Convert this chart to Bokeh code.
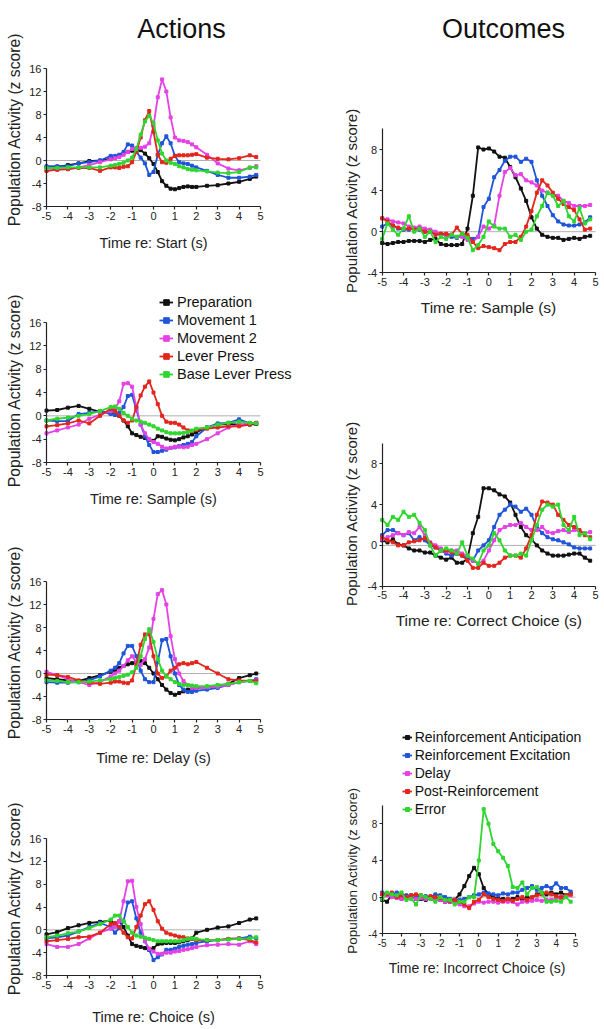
import math
from bokeh.plotting import figure
from bokeh.models import Range1d, FixedTicker, Legend, LegendItem, LinearAxis
from bokeh.embed import file_html
from bokeh.resources import INLINE
from bokeh.core.properties import value

FONT = "Liberation Sans"
COLORS = ["#111111", "#1f55d9", "#e542e5", "#e3261d", "#2fd62f"]
W, H = 604, 1029

# ---------------- data: Actions (left column) ----------------
t_act = [-5, -4.5, -4, -3.5, -3, -2.5, -2, -1.8, -1.6, -1.4, -1.2, -1, -0.8, -0.6, -0.4, -0.2,
         0, 0.2, 0.4, 0.6, 0.8, 1, 1.2, 1.4, 1.6, 1.8, 2, 2.5, 3, 3.5, 4, 4.5, 4.8]
action_names = ["Preparation", "Movement 1", "Movement 2", "Lever Press", "Base Lever Press"]

start_prep = [-1.2, -1.1, -0.8, -0.5, -0.1, 0.0, 0.3, 0.5, 0.8, 1.2, 1.5, 1.7, 1.8, 1.8, 1.2, 0.4, -0.6,
              -2.0, -3.6, -4.4, -4.9, -5.0, -4.8, -4.6, -4.5, -4.6, -4.6, -4.4, -4.3, -4.0, -3.7, -3.2, -2.8]
start_mov1 = [-1.0, -1.0, -1.0, -0.5, -0.3, 0.0, 0.8, 0.8, 1.0, 1.5, 2.8, 2.6, 1.5, 0.5, -0.5, -2.5, -2.0,
              1.0, 3.0, 4.2, 3.0, 0.8, -0.3, -0.5, -0.6, -0.9, -1.2, -1.8, -2.5, -3.0, -3.0, -2.8, -2.5]
start_mov2 = [-1.8, -1.6, -1.5, -1.2, -0.8, -0.3, 0.2, 0.4, 0.6, 1.0, 1.5, 2.0, 2.2, 2.2, 2.4, 3.0, 6.0,
              11.0, 14.1, 12.0, 7.5, 4.0, 3.5, 3.4, 3.2, 2.8, 2.3, 1.0, -0.5, -1.4, -1.7, -1.3, -1.0]
start_lever = [-1.8, -1.6, -1.5, -1.3, -1.3, -1.8, -1.2, -1.2, -1.3, -1.1, -1.0, -0.3, 1.5, 4.0, 7.0, 8.6, 5.0,
               1.0, -0.3, -0.4, 0.3, 0.8, 0.9, 0.9, 0.9, 1.0, 1.1, 0.5, 0.3, 0.2, 0.4, 0.9, 0.6]
start_base = [-1.3, -1.3, -1.2, -1.2, -1.2, -1.2, -0.9, -0.8, -0.6, -0.4, 0.0, 0.5, 2.0, 4.5, 6.8, 7.8, 6.5,
              3.5, 1.2, 0.0, -0.4, -0.6, -1.0, -1.2, -1.5, -1.6, -1.7, -1.9, -2.1, -2.2, -2.0, -1.2, -1.2]

sample_prep = [0.9, 1.0, 1.4, 1.7, 1.2, 0.7, 0.5, 0.2, 0.0, -0.8, -1.8, -3.0, -3.3, -3.6, -3.8, -4.1, -4.3,
               -3.5, -3.6, -3.9, -4.1, -4.2, -4.0, -3.7, -3.5, -3.2, -2.8, -2.0, -1.5, -1.4, -1.5, -1.5, -1.4]
sample_mov1 = [-0.8, -0.9, -0.9, 0.3, 0.5, 0.8, 0.3, 0.2, 0.5, 1.5, 3.4, 3.6, 1.0, -1.5, -3.5, -5.0, -6.2,
               -6.2, -6.0, -5.8, -5.5, -5.4, -5.2, -5.0, -4.8, -4.5, -3.5, -2.0, -1.3, -1.2, -0.6, -1.3, -1.3]
sample_mov2 = [-3.0, -2.5, -2.0, -1.5, -0.5, 0.2, 0.8, 1.2, 2.5, 5.5, 5.6, 5.0, 1.5, -1.5, -3.0, -4.0, -4.5,
               -4.8, -5.3, -5.6, -5.5, -5.3, -5.3, -5.4, -5.3, -5.0, -4.8, -4.0, -3.0, -2.0, -1.5, -1.3, -1.2]
sample_lever = [-1.8, -1.6, -1.3, -0.8, -1.3, 0.0, 1.2, 0.8, 0.0, -0.8, -1.2, -0.8, 1.5, 3.5, 5.0, 5.9, 4.0,
                2.0, 0.0, -1.0, -1.2, -1.2, -1.5, -2.0, -2.5, -2.6, -2.4, -2.2, -2.0, -1.8, -1.8, -1.5, -1.2]
sample_base = [-0.8, -0.5, -0.3, 0.0, 0.3, 0.8, 1.5, 1.6, 1.2, 0.5, 0.0, -0.5, -0.8, -1.0, -1.2, -1.5, -1.8,
               -2.2, -2.5, -2.8, -3.0, -3.0, -3.0, -2.9, -2.8, -2.5, -2.2, -2.0, -1.5, -1.2, -1.0, -1.2, -1.3]

delay_prep = [-0.8, -1.0, -1.2, -1.3, -0.8, -0.3, 0.3, 0.6, 1.0, 1.3, 1.6, 1.8, 2.0, 2.2, 1.8, 1.0, 0.0,
              -1.0, -2.0, -2.8, -3.4, -3.7, -3.4, -3.1, -2.8, -2.6, -2.5, -2.4, -2.2, -1.8, -0.8, -0.3, 0.0]
delay_mov1 = [-1.5, -1.6, -1.6, -1.5, -1.2, -0.5, 0.5, 1.0, 1.8, 3.5, 4.8, 4.8, 3.0, 0.5, -1.0, -1.5, -1.5,
              2.0, 5.8, 6.0, 3.0, 0.0, -2.0, -2.8, -3.2, -3.2, -3.0, -2.8, -2.5, -2.0, -1.5, -1.3, -1.0]
delay_mov2 = [0.3, -0.3, -1.0, -1.5, -2.0, -1.5, -0.5, 0.0, 0.5, 1.3, 2.3, 3.0, 2.0, 1.5, 2.5, 4.5, 9.5,
              13.8, 14.5, 12.0, 6.5, 2.5, 0.0, -1.3, -2.0, -2.5, -2.5, -2.4, -2.3, -2.0, -1.5, -1.3, -1.2]
delay_lever = [-0.2, -0.3, -0.6, -1.2, -1.6, -1.8, -1.6, -1.4, -1.4, -1.6, -1.7, -1.2, 1.5, 5.0, 6.8, 6.8, 3.0,
               0.0, -0.8, -0.5, 0.5, 1.0, 1.6, 1.8, 1.6, 1.8, 2.0, 1.0, 0.0, -1.0, -1.2, -1.3, -1.3]
delay_base = [-1.2, -1.3, -1.5, -1.5, -1.4, -1.2, -1.0, -0.8, -0.6, -0.4, -0.2, 0.2, 1.0, 3.0, 6.0, 7.7, 5.5,
              2.5, 0.5, -0.5, -1.0, -1.5, -1.8, -2.0, -2.0, -2.1, -2.2, -2.2, -2.0, -1.8, -1.5, -1.3, -1.7]

choice_prep = [-0.8, -0.4, 0.3, 0.8, 1.2, 1.4, 1.6, 1.0, 1.5, 0.5, -1.0, -2.5, -2.8, -3.0, -3.2, -3.5, -3.2,
               -2.5, -2.4, -2.3, -2.3, -2.3, -2.2, -2.0, -1.8, -1.5, -0.5, 0.0, 0.4, 0.6, 1.2, 1.8, 2.0]
choice_mov1 = [-1.5, -1.3, -1.0, -0.3, 0.5, 1.2, 0.5, -0.5, 0.3, 1.5, 4.8, 5.0, 2.0, -0.5, -2.0, -3.5, -5.3,
               -4.8, -4.3, -3.5, -3.5, -3.3, -3.0, -2.8, -2.6, -2.5, -2.3, -2.0, -1.8, -1.6, -1.5, -1.2, -1.5]
choice_mov2 = [-2.5, -3.0, -3.0, -2.5, -1.5, -0.5, 0.2, 0.5, 1.5, 5.0, 8.5, 8.6, 4.0, 1.0, -2.0, -3.3, -3.8,
               -4.2, -4.2, -4.0, -4.0, -3.8, -3.7, -3.5, -3.4, -3.2, -3.0, -2.7, -2.6, -2.5, -2.6, -2.0, -2.5]
choice_lever = [-2.0, -1.8, -1.6, -1.3, -1.2, -0.5, 1.0, 1.2, 0.5, -0.5, -1.3, -1.5, 0.5, 2.5, 4.5, 5.0, 3.5,
                1.5, 0.2, -0.5, -0.8, -1.0, -1.2, -1.3, -1.5, -1.6, -1.8, -1.8, -1.8, -1.6, -1.5, -1.8, -2.2]
choice_base = [-1.3, -1.0, -0.6, -0.3, 0.3, 1.0, 1.8, 2.5, 2.5, 1.5, 0.5, -0.5, -1.0, -1.2, -1.4, -1.6, -1.8,
               -2.0, -2.0, -2.0, -2.0, -2.0, -2.0, -1.8, -1.6, -1.5, -1.6, -1.8, -1.8, -1.7, -1.6, -1.5, -1.3]

# ---------------- data: Outcomes (right column) ----------------
t_out = [-5, -4.75, -4.5, -4.25, -4, -3.75, -3.5, -3.25, -3, -2.75, -2.5, -2.25, -2, -1.75, -1.5, -1.25,
         -1, -0.75, -0.5, -0.25, 0, 0.25, 0.5, 0.75, 1, 1.25, 1.5, 1.75, 2, 2.25, 2.5, 2.75, 3, 3.25, 3.5,
         3.75, 4, 4.25, 4.5, 4.75]
outcome_names = ["Reinforcement Anticipation", "Reinforcement Excitation", "Delay", "Post-Reinforcement", "Error"]

samp_ant = [-1.1, -1.2, -1.1, -1.0, -1.0, -0.9, -0.9, -0.9, -1.0, -0.8, -0.7, -1.2, -1.3, -1.3, -1.3, -1.2,
            0.3, 3.5, 8.2, 8.0, 8.1, 7.8, 7.3, 7.2, 6.3, 5.3, 4.2, 3.0, 1.4, 0.3, -0.3, -0.5, -0.6, -0.6,
            -0.8, -0.7, -0.6, -0.7, -0.5, -0.4]
samp_exc = [0.5, 0.8, 0.6, 0.3, 0.2, 0.2, 0.3, 0.2, 0.0, 0.0, -0.2, -0.3, -0.3, -0.5, -0.6, -0.4, -0.5,
            -0.7, -0.5, 2.4, 3.2, 5.3, 6.0, 6.9, 7.3, 7.3, 6.8, 7.1, 6.8, 5.0, 3.5, 2.5, 1.6, 1.0, 0.7, 0.6,
            0.6, 0.7, 0.9, 1.4]
samp_delay = [1.3, 1.2, 1.0, 0.9, 0.8, 0.5, 0.4, 0.5, 0.3, 0.2, 0.0, -0.2, -0.3, -0.3, -0.5, -0.5, -0.8,
              -1.0, -0.5, 0.5, 0.3, 0.6, 3.5, 5.8, 6.2, 5.5, 5.6, 5.0, 4.8, 4.5, 4.0, 3.8, 3.6, 3.5, 3.0,
              2.8, 2.5, 2.5, 2.5, 2.6]
samp_post = [1.3, 1.0, 0.6, 0.4, 0.3, 0.3, 0.2, 0.3, 0.0, 0.0, -0.3, -0.2, -0.2, -0.3, 0.4, -0.2, -0.3,
             -1.0, -1.6, -1.4, -1.5, -1.6, -1.8, -1.2, -1.0, -1.0, -0.5, 0.5, 2.0, 3.8, 5.0, 4.5, 3.8, 3.2,
             2.7, 2.4, 2.1, 1.2, 0.2, 0.3]
samp_err = [-0.7, 0.8, 0.2, -0.3, 0.3, 1.5, 0.0, 0.3, -0.5, 0.0, -1.0, -0.5, -0.7, -0.3, -0.5, -0.2, -0.6,
            -1.8, -1.3, -0.5, 1.0, 0.5, 0.3, 0.3, -0.5, -0.3, -0.8, 0.0, 0.2, 1.5, 2.5, 3.8, 3.5, 2.5, 3.0,
            1.5, 1.0, 2.3, 0.8, 1.2]

corr_ant = [0.5, 0.3, 0.6, 0.1, 0.0, -0.3, -0.5, -0.5, -0.7, -0.7, -1.0, -1.2, -1.4, -1.2, -1.7, -1.7, -1.3,
            1.2, 2.8, 5.6, 5.6, 5.4, 5.0, 4.8, 4.2, 3.0, 1.8, 1.0, 0.6, 0.0, -0.5, -0.8, -1.0, -1.0, -1.0,
            -0.9, -0.8, -0.8, -1.2, -1.5]
corr_exc = [1.0, 1.5, 1.5, 1.2, 1.0, 1.2, 0.5, 0.8, 0.5, 0.0, -0.2, -0.5, -0.8, -1.0, -0.8, -1.0, -1.2,
            -1.5, -0.5, 0.0, 0.5, 1.8, 3.0, 3.5, 4.0, 3.8, 3.3, 3.6, 3.0, 1.8, 1.2, 0.8, 0.6, 0.5, 0.3, 0.1,
            -0.2, -0.3, -0.3, -0.3]
corr_delay = [0.6, 0.8, 1.0, 1.2, 1.0, 1.3, 1.2, 1.8, 1.0, 0.3, 0.0, -0.3, -0.6, -0.5, -0.5, -0.8, -1.0,
              -1.5, -1.8, -1.5, -0.5, 0.5, 1.5, 1.8, 2.0, 2.0, 2.2, 1.8, 1.5, 1.5, 1.8, 1.3, 1.2, 1.4, 1.5,
              1.3, 1.5, 1.4, 1.2, 1.3]
corr_post = [0.8, 0.5, 0.3, 0.0, 0.0, 0.3, 0.4, 0.5, 0.7, 0.2, -0.2, -0.5, -0.5, -0.7, -0.8, -1.0, -1.5,
             -2.2, -2.2, -1.7, -2.0, -2.0, -1.7, -1.2, -1.0, -1.0, -1.2, -0.3, 1.0, 3.0, 4.3, 4.2, 4.0, 3.0,
             2.5, 2.0, 1.8, 1.5, 1.0, 0.8]
corr_err = [2.5, 2.0, 2.8, 2.5, 3.3, 2.8, 3.0, 2.2, 1.5, 0.0, -1.0, -0.5, -0.3, -0.5, -0.8, 0.3, -1.0,
            -1.3, -1.8, -0.5, 0.0, 1.2, 0.5, -0.5, -1.0, -1.0, -0.8, -1.0, 0.5, 2.0, 3.5, 4.0, 3.8, 4.0,
            2.0, 1.5, 2.8, 1.0, 1.2, 0.6]

inc_ant = [-0.3, -0.5, 0.3, 0.0, -0.2, 0.0, 0.0, -0.2, -0.2, -0.3, -0.1, -0.2, -0.3, -0.5, -0.5, -0.3, 0.3,
           1.2, 2.3, 3.2, 2.5, 1.0, 0.3, 0.0, -0.2, -0.2, -0.3, -0.2, 0.0, -0.3, 0.0, -0.1, 0.3, 0.5, 0.3,
           0.5, 0.3, 0.5, 0.2, 0.4]
inc_exc = [0.5, 0.3, 0.3, 0.5, 0.3, 0.2, 0.2, 0.2, 0.0, 0.1, 0.0, 0.3, 0.2, 0.0, -0.2, -0.3, -0.3, -0.2,
           0.0, 0.2, 0.3, 0.5, 0.4, 0.3, 0.2, 0.4, 0.3, 0.5, 0.5, 0.8, 1.0, 1.2, 0.8, 1.0, 1.2, 1.0, 1.5,
           1.0, 1.0, 0.6]
inc_delay = [0.3, 0.2, 0.0, -0.1, -0.2, 0.0, -0.1, -0.2, -0.1, -0.2, -0.2, -0.3, -0.3, -0.5, -0.5, -0.6,
             -0.8, -1.0, -1.0, -0.7, -0.5, -0.6, -0.5, -0.5, -0.6, -0.5, -0.5, -0.5, -0.8, -0.5, -0.5, -0.4,
             -0.3, -0.4, -0.3, -0.3, -0.2, -0.1, 0.0, 0.2]
inc_post = [0.3, 0.3, 0.5, 0.0, 0.2, 0.0, 0.2, 0.3, 0.2, 0.0, 0.1, 0.0, -0.1, -0.3, -0.4, -0.3, -0.5, -0.8,
            -1.2, -0.5, -0.3, 0.3, 0.0, -0.2, -0.3, -0.4, -0.2, -0.4, -0.2, 0.0, -0.3, 0.0, 0.2, 0.3, 0.5,
            0.3, 0.1, 0.0, 0.2, 0.3]
inc_err = [-0.2, 0.5, 0.3, 0.2, 0.5, -0.3, -0.2, -0.8, 0.2, 0.0, -0.2, -0.5, 0.0, -0.3, -0.3, -0.8, -0.5,
           -0.5, 0.0, 0.0, 4.0, 9.6, 8.0, 5.8, 5.0, 4.3, 3.4, 1.1, 1.0, 1.6, 0.3, 1.0, 1.1, 0.5, -0.5, -0.5,
           -0.4, -0.5, 0.0, -0.5]

x_ticks = [-5, -4, -3, -2, -1, 0, 1, 2, 3, 4, 5]
act_yticks = [-8, -4, 0, 4, 8, 12, 16]
out_yticks = [-4, 0, 4, 8]
act_ybounds = (-8, 16)
out_ybounds = (-4, 10)
Y_LABEL = "Population Activity (z score)"
column_titles = ["Actions", "Outcomes"]

# ---------------- layout (pixel positions on the page, styling only) ----------------
LEFT_X = (46, 260)
RIGHT_X = (381.7, 595)
RIGHT_X7 = (381.7, 575)
LEFT_FS = ("11px", "14.5px", "15.7px")
RIGHT_FS = ("11px", "15.5px", "15px")

panels = [
    dict(t=t_act, series=[start_prep, start_mov1, start_mov2, start_lever, start_base],
         xspan=LEFT_X, ymap=(-8, 16, 206, 68), yb=act_ybounds, yt=act_yticks,
         xlabel="Time re: Start (s)", xlab=(153, 242), ylab=(13.7, 129), fs=LEFT_FS),
    dict(t=t_act, series=[sample_prep, sample_mov1, sample_mov2, sample_lever, sample_base],
         xspan=LEFT_X, ymap=(-8, 16, 462, 322), yb=act_ybounds, yt=act_yticks,
         xlabel="Time re: Sample (s)", xlab=(153, 498), ylab=(13.7, 390), fs=LEFT_FS),
    dict(t=t_act, series=[delay_prep, delay_mov1, delay_mov2, delay_lever, delay_base],
         xspan=LEFT_X, ymap=(-8, 16, 719, 581), yb=act_ybounds, yt=act_yticks,
         xlabel="Time re: Delay (s)", xlab=(153, 757), ylab=(13.7, 642), fs=LEFT_FS),
    dict(t=t_act, series=[choice_prep, choice_mov1, choice_mov2, choice_lever, choice_base],
         xspan=LEFT_X, ymap=(-8, 16, 975, 838), yb=act_ybounds, yt=act_yticks,
         xlabel="Time re: Choice (s)", xlab=(153, 1016), ylab=(13.7, 898), fs=LEFT_FS),
    dict(t=t_out, series=[samp_ant, samp_exc, samp_delay, samp_post, samp_err],
         xspan=RIGHT_X, ymap=(-4, 8, 272.3, 149), yb=out_ybounds, yt=out_yticks,
         xlabel="Time re: Sample (s)", xlab=(488, 306.5), ylab=(350.5, 200), fs=RIGHT_FS),
    dict(t=t_out, series=[corr_ant, corr_exc, corr_delay, corr_post, corr_err],
         xspan=RIGHT_X, ymap=(-4, 8, 585.7, 463.3), yb=out_ybounds, yt=out_yticks,
         xlabel="Time re: Correct Choice (s)", xlab=(488.3, 620), ylab=(350.5, 513), fs=RIGHT_FS),
    dict(t=t_out, series=[inc_ant, inc_exc, inc_delay, inc_post, inc_err],
         xspan=RIGHT_X7, ymap=(-4, 8, 933.3, 823.3), yb=out_ybounds, yt=out_yticks,
         xlabel="Time re: Incorrect Choice  (s)", xlab=(478.5, 967), ylab=(351.5, 870),
         fs=("10px", "14px", "13.5px")),
]


def xmap(L, R):
    """x range whose -5 and 5 fall at page pixels L and R."""
    s = (R - L) / 10.0
    start = -5 - L / s
    return Range1d(start, start + W / s)


def ymap(lo, hi, B, T):
    """y range whose values lo and hi fall at page pixels B and T (measured from the top)."""
    s = (B - T) / (hi - lo)
    start = lo - (H - B) / s
    return Range1d(start, start + H / s)


p = figure(width=W, height=H, x_range=Range1d(0, W), y_range=Range1d(0, H), output_backend="svg",
           toolbar_location=None, x_axis_type=None, y_axis_type=None, min_border=0, title=None)
p.outline_line_color = None
p.background_fill_color = "white"
p.border_fill_color = "white"

p.extra_x_ranges = {f"x{i}": xmap(*pn["xspan"]) for i, pn in enumerate(panels)}
p.extra_y_ranges = {f"y{i}": ymap(*pn["ymap"]) for i, pn in enumerate(panels)}


def style_axis(ax, fsize):
    ax.axis_line_color = "#222222"
    ax.axis_line_width = 1.2
    ax.major_tick_line_color = "#222222"
    ax.major_tick_line_width = 1.2
    ax.major_tick_in = 0
    ax.major_tick_out = 3
    ax.minor_tick_line_color = None
    ax.major_label_text_font = FONT
    ax.major_label_text_font_size = fsize
    ax.major_label_text_color = "#222222"
    ax.major_label_standoff = 2


panel_renderers = []
for i, pn in enumerate(panels):
    xn, yn = f"x{i}", f"y{i}"
    # zero reference line
    p.line([x_ticks[0], x_ticks[-1]], [0, 0], x_range_name=xn, y_range_name=yn,
           line_color="#b0b0b0", line_width=1)
    rends = []
    for vals, col in zip(pn["series"], COLORS):
        ln = p.line(pn["t"], vals, x_range_name=xn, y_range_name=yn, line_color=col, line_width=1.8)
        sc = p.scatter(pn["t"], vals, x_range_name=xn, y_range_name=yn, marker="square", size=3,
                       fill_color=col, line_color=col)
        rends.append([ln, sc])
    panel_renderers.append(rends)

    xa = LinearAxis(x_range_name=xn, y_range_name=yn, fixed_location=pn["yb"][0],
                    bounds=(x_ticks[0], x_ticks[-1]), ticker=FixedTicker(ticks=x_ticks),
                    major_label_overrides={v: str(v) for v in x_ticks})
    style_axis(xa, pn["fs"][0])
    p.add_layout(xa, "below")
    ya = LinearAxis(x_range_name=xn, y_range_name=yn, fixed_location=x_ticks[0],
                    bounds=pn["yb"], ticker=FixedTicker(ticks=pn["yt"]),
                    major_label_overrides={v: str(v) for v in pn["yt"]})
    style_axis(ya, pn["fs"][0])
    p.add_layout(ya, "left")

    # axis titles
    p.text(x=[pn["xlab"][0]], y=[H - pn["xlab"][1]], text=[pn["xlabel"]], text_align="center",
           text_baseline="middle", text_font=value(FONT), text_font_size=pn["fs"][1], text_color="#222222")
    p.text(x=[pn["ylab"][0]], y=[H - pn["ylab"][1]], text=[Y_LABEL], angle=math.pi / 2,
           text_align="center", text_baseline="middle", text_font=value(FONT),
           text_font_size=pn["fs"][2], text_color="#222222")

# column titles
p.text(x=[181, 503], y=[H - 28, H - 28], text=column_titles, text_align="center",
       text_baseline="alphabetic", text_font=value(FONT), text_font_size="27px", text_color="#111111")


def add_legend(names, rends, loc, glyph_w, standoff, fsize):
    leg = Legend(items=[LegendItem(label=n, renderers=r) for n, r in zip(names, rends)], location=loc)
    leg.background_fill_alpha = 0
    leg.border_line_alpha = 0
    leg.padding = 0
    leg.margin = 0
    leg.spacing = 0
    leg.glyph_width = glyph_w
    leg.glyph_height = 18
    leg.label_height = 18
    leg.label_standoff = standoff
    leg.label_text_font = FONT
    leg.label_text_font_size = fsize
    leg.label_text_color = "#111111"
    p.add_layout(leg)


add_legend(action_names, panel_renderers[1], (159, H - 382.7), 14, 4, "14.5px")
add_legend(outcome_names, panel_renderers[6], (401.7, H - 817.7), 10, 3, "14px")

open("out.html", "w").write(file_html(p, INLINE))
